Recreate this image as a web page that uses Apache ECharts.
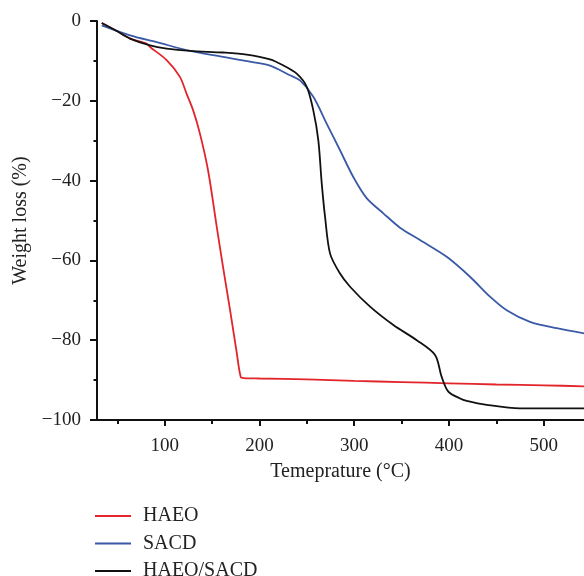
<!DOCTYPE html>
<html><head><meta charset="utf-8">
<script src="https://cdn.jsdelivr.net/npm/echarts@6/dist/echarts.min.js"></script>
<style>html,body{margin:0;padding:0;background:#fff}#c{width:584px;height:576px}</style>
</head><body><div id="c"></div>
<script>
// Data (temperature °C, weight loss %)
const haeo = [[33.5,-0.5],[49.3,-2.5],[63.4,-4.4],[81,-5.7],[84.5,-6.5],[102,-9.8],[116,-14],[123,-18.2],[130,-22.4],[137,-28.1],[145.7,-37.4],[154.9,-51.6],[161.5,-61.6],[169,-72.5],[176,-83.2],[180.2,-89.2],[183.7,-89.5],[200,-89.6],[250,-89.8],[300,-90.2],[350,-90.5],[400,-90.8],[450,-91.1],[500,-91.3],[545,-91.6]];
const sacd = [[33.5,-1.1],[63.4,-3.6],[91.5,-5.3],[126.7,-7.5],[161.8,-9.0],[190,-10.2],[211.1,-11.2],[232.2,-13.6],[242.8,-14.9],[256.8,-19.0],[270.9,-25.7],[285,-32.4],[299,-39.1],[313.1,-44.4],[330.7,-48.2],[348.3,-51.8],[369.4,-54.9],[397.6,-59.1],[422.2,-64.1],[443.3,-69.1],[460.9,-72.5],[485.5,-75.4],[513.7,-77.0],[545,-78.4]];
const haeoSacd = [[33.5,-0.5],[49.3,-2.5],[63.4,-4.4],[84.5,-6.1],[102,-6.9],[126.7,-7.5],[161.5,-7.9],[186.5,-8.4],[211.1,-9.6],[224.9,-11.1],[239.3,-13.2],[249.9,-16.5],[256.8,-22.4],[262.1,-29.9],[265.7,-40.7],[269.2,-49.1],[274.5,-58.3],[285,-63.3],[295.6,-66.6],[316.7,-71.6],[341.3,-76.2],[366,-80],[385.3,-83.7],[392.3,-89.2],[399.3,-92.9],[411.7,-94.6],[418.7,-95.2],[439.8,-96.2],[474.9,-97.1],[545,-97.1]];
const seriesNames = ['HAEO','SACD','HAEO/SACD'];
const xMajor = [100,200,300,400,500];
const xMinor = [50,150,250,350,450,550];
const yMinor = [-10,-30,-50,-70,-90];

const FONT = '"Liberation Serif", "Times New Roman", serif';
const colors = ['#e2242b','#3a59a6','#111111'];
const chart = echarts.init(document.getElementById('c'));
const minus = v => String(v).replace('-', '\u2212');
const xBase = {type:'value', min:28.5, max:542.5, splitLine:{show:false}};
const yBase = {type:'value', min:-100, max:0, interval:20, splitLine:{show:false}};
const legendTops = [501, 528.5, 556];
chart.setOption({
  animation:false,
  grid:{left:97, right:0, top:21, bottom:156, containLabel:false},
  legend: seriesNames.map((n, i) => ({
    orient:'vertical', left:89, top:legendTops[i], itemWidth:36, itemHeight:14,
    data:[n], selectedMode:false,
    itemStyle:{opacity:0},
    textStyle:{fontFamily:FONT, fontSize:20, color:'#222', lineHeight:18, padding:[0,0,0,7]}
  })),
  xAxis:[
    Object.assign({}, xBase, {
      name:'Temeprature (°C)', nameLocation:'middle', nameGap:42,
      nameTextStyle:{fontFamily:FONT, fontSize:20, color:'#222'},
      axisLine:{onZero:false, lineStyle:{color:'#111', width:2}},
      axisTick:{show:true, inside:false, length:6, lineStyle:{color:'#111', width:2}, customValues:xMajor},
      axisLabel:{fontFamily:FONT, fontSize:19, color:'#222', margin:17, customValues:xMajor}
    }),
    Object.assign({}, xBase, {
      gridIndex:0, position:'bottom',
      axisLine:{show:false, onZero:false},
      axisTick:{show:true, length:4, lineStyle:{color:'#111', width:2}, customValues:xMinor},
      axisLabel:{show:false}
    })
  ],
  yAxis:[
    Object.assign({}, yBase, {
      name:'Weight loss (%)', nameLocation:'middle', nameGap:58,
      nameTextStyle:{fontFamily:FONT, fontSize:20, color:'#222'},
      axisLine:{show:true, onZero:false, lineStyle:{color:'#111', width:2}},
      axisTick:{show:true, length:7, lineStyle:{color:'#111', width:2}},
      axisLabel:{fontFamily:FONT, fontSize:19, color:'#222', margin:16, formatter:minus}
    }),
    Object.assign({}, yBase, {
      position:'left',
      axisLine:{show:false, onZero:false},
      axisTick:{show:true, length:3.5, lineStyle:{color:'#111', width:2}, customValues:yMinor},
      axisLabel:{show:false}
    })
  ],
  series:[
    {name:seriesNames[0], type:'line', data:haeo, symbol:'none', smooth:0.3, lineStyle:{width:1.8, color:colors[0]}, itemStyle:{color:colors[0]}},
    {name:seriesNames[1], type:'line', data:sacd, symbol:'none', smooth:0.3, lineStyle:{width:1.8, color:colors[1]}, itemStyle:{color:colors[1]}},
    {name:seriesNames[2], type:'line', data:haeoSacd, symbol:'none', smooth:0.3, lineStyle:{width:1.8, color:colors[2]}, itemStyle:{color:colors[2]}}
  ]
});
</script></body></html>
